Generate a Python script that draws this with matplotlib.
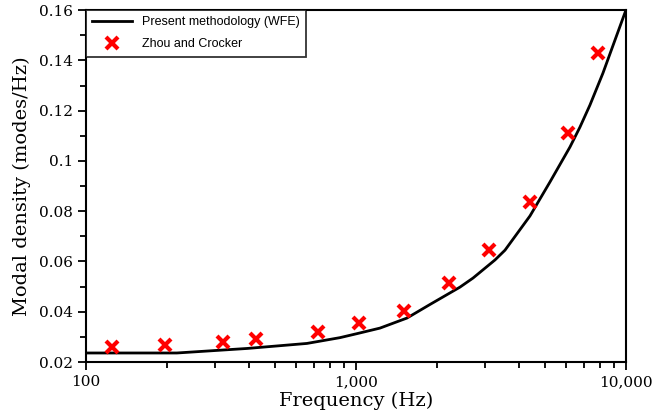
import matplotlib
matplotlib.use("Agg")
import matplotlib.pyplot as plt
from matplotlib.ticker import FixedLocator, FuncFormatter, MultipleLocator, NullFormatter

# present methodology (WFE) curve
wfe_freq = [100, 217, 395, 658, 872, 1009, 1227, 1545, 1880, 2428, 2713, 3272,
            3565, 4410, 5230, 6202, 6753, 7356, 8218, 10000]
wfe_density = [0.0236, 0.0236, 0.0254, 0.0274, 0.0297, 0.0313, 0.0335, 0.0375,
               0.0429, 0.0498, 0.0534, 0.0606, 0.0645, 0.0781, 0.0916, 0.1055,
               0.1134, 0.1222, 0.1349, 0.1600]

# Zhou and Crocker points
zc_freq = [125, 196, 321, 427, 722, 1026, 1506, 2209, 3111, 4402, 6095, 7870]
zc_density = [0.0260, 0.0268, 0.0280, 0.0291, 0.0319, 0.0354, 0.0405, 0.0514,
              0.0647, 0.0836, 0.1110, 0.1429]

x_major = [100, 1000, 10000]


def y_fmt(v, pos):
    s = f"{v:.2f}"
    return "0.1" if s == "0.10" else s


fig = plt.figure(figsize=(6.52, 4.2), dpi=100)
ax = fig.add_axes([0.132, 0.138, 0.828, 0.838])

ax.plot(wfe_freq, wfe_density, color="black", lw=2.0,
        label="Present methodology (WFE)", zorder=2)
ax.plot(zc_freq, zc_density, ls="none", marker="x", color="#ff0000",
        markersize=8, markeredgewidth=3, label="Zhou and Crocker", zorder=3)

ax.set_xscale("log")
ax.set_xlim(100, 10000)
ax.set_ylim(0.02, 0.16)

ax.xaxis.set_major_locator(FixedLocator(x_major))
ax.xaxis.set_major_formatter(FuncFormatter(lambda v, p: f"{int(v):,}"))
ax.xaxis.set_minor_formatter(NullFormatter())
ax.yaxis.set_major_locator(MultipleLocator(0.02))
ax.yaxis.set_minor_locator(MultipleLocator(0.01))
ax.yaxis.set_major_formatter(FuncFormatter(y_fmt))

serif = "DejaVu Serif"
ax.tick_params(which="both", direction="out", top=False, right=False, width=1.3)
ax.tick_params(which="major", length=6, labelsize=11)
ax.tick_params(which="minor", length=4)
for lab in ax.get_xticklabels() + ax.get_yticklabels():
    lab.set_fontfamily(serif)

for sp in ax.spines.values():
    sp.set_linewidth(1.5)

ax.set_xlabel("Frequency (Hz)", fontsize=14, fontfamily=serif, labelpad=2)
ax.set_ylabel("Modal density (modes/Hz)", fontsize=14, fontfamily=serif, labelpad=6)

leg = ax.legend(loc="upper left", borderaxespad=0, frameon=True, fancybox=False,
                edgecolor="black", prop={"family": "Liberation Sans", "size": 9},
                handlelength=3.2, borderpad=0.5, labelspacing=0.8)
leg.get_frame().set_linewidth(1.3)

fig.savefig("out.png", dpi=100)
